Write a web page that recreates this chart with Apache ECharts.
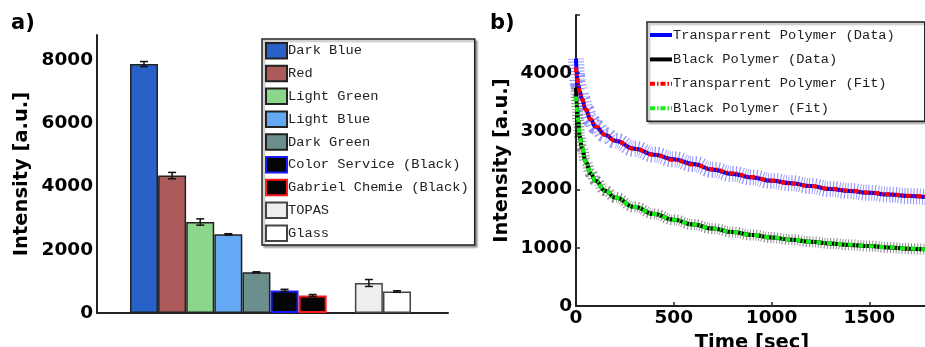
<!DOCTYPE html>
<html>
<head>
<meta charset="utf-8">
<script src="https://cdn.jsdelivr.net/npm/echarts@6/dist/echarts.min.js"></script>
<style>
html,body{margin:0;padding:0;background:#fff}
#chart{width:925px;height:347px}
</style>
</head>
<body>
<div id="chart"></div>
<script>
// a) intensity per material ('' = empty slot between the two groups)
var categories = ['Dark Blue', 'Red', 'Light Green', 'Light Blue', 'Dark Green', 'Color Service (Black)', 'Gabriel Chemie (Black)', '', 'TOPAS', 'Glass'];
var intensity = [7880, 4350, 2880, 2490, 1290, 715, 555, null, 950, 680];
var intensityErr = [80, 100, 100, 20, 15, 35, 30, null, 110, 25];
var barFill = ['#2862c8', '#ad5a5a', '#8bd68a', '#65a8f4', '#6b8f8c', '#050505', '#050505', null, '#eeeeee', '#ffffff'];
var barEdge = ['#222', '#222', '#222', '#222', '#222', '#1a1aff', '#ff1a1a', null, '#444', '#444'];

// b) decay curves
var times = [0, 5, 10, 20, 30, 50, 75, 100, 150, 200, 300, 400, 500, 600, 700, 800, 900, 1000, 1100, 1200, 1300, 1400, 1500, 1600, 1700, 1790];
var transData = [4250, 3950, 3820, 3680, 3560, 3370, 3200, 3080, 2940, 2840, 2700, 2600, 2520, 2440, 2340, 2270, 2210, 2150, 2110, 2060, 2010, 1975, 1945, 1915, 1890, 1870];
var transFit  = [4100, 3900, 3800, 3670, 3560, 3380, 3210, 3090, 2940, 2840, 2700, 2600, 2510, 2430, 2350, 2280, 2215, 2155, 2105, 2060, 2015, 1980, 1950, 1920, 1895, 1875];
var blackData = [3750, 3400, 3200, 2900, 2720, 2480, 2280, 2150, 1980, 1865, 1700, 1580, 1480, 1400, 1330, 1270, 1220, 1175, 1140, 1105, 1075, 1050, 1030, 1005, 985, 972];
var blackFit  = [3600, 3380, 3200, 2900, 2720, 2480, 2280, 2150, 1980, 1865, 1700, 1580, 1480, 1400, 1330, 1270, 1220, 1178, 1140, 1105, 1078, 1052, 1030, 1008, 988, 975];
var curveNames = ['Transparrent Polymer (Data)', 'Black Polymer (Data)', 'Transparrent Polymer (Fit)', 'Black Polymer (Fit)'];

var chart = echarts.init(document.getElementById('chart'));

var boldFont = {fontFamily: 'DejaVu Sans', fontWeight: 'bold', color: '#000'};
var solidIcon = 'path://M0,0H22V4H0Z';
var dashDotIcon = 'path://M0,0H5V4H0Z M7,0H8.5V4H7Z M10.5,0H15.5V4H10.5Z M17.5,0H19V4H17.5Z M21,0H22V4H21Z';

function pairs(vals) {
	return times.map(function (t, i) { return [t, vals[i]]; });
}
function tickFmt(step, top) {
	return function (v) { return (v % step === 0 && v < top) ? v : ''; };
}

var series = [];
var barNames = [];
categories.forEach(function (name, i) {
	if (!name) return;
	barNames.push(name);
	series.push({
		name: name,
		type: 'bar',
		xAxisIndex: 0,
		yAxisIndex: 0,
		barWidth: 28,
		barGap: '-100%',
		itemStyle: {
			color: barFill[i],
			borderColor: barEdge[i],
			borderWidth: (i === 5 || i === 6) ? 2 : 1.5
		},
		data: [[i, intensity[i]]]
	});
});

// error bars
series.push({
	type: 'custom',
	xAxisIndex: 0,
	yAxisIndex: 0,
	z: 10,
	encode: {x: 0, y: 1},
	data: categories.map(function (c, i) {
		return c ? [i, intensity[i], intensityErr[i]] : null;
	}).filter(function (d) { return d; }),
	renderItem: function (params, api) {
		var x = api.value(0), v = api.value(1), e = api.value(2);
		var hi = api.coord([x, v + e]), lo = api.coord([x, v - e]);
		var hw = 4;
		var st = {stroke: '#111', lineWidth: 1.5};
		return {
			type: 'group',
			children: [
				{type: 'line', shape: {x1: hi[0], y1: hi[1], x2: lo[0], y2: lo[1]}, style: st},
				{type: 'line', shape: {x1: hi[0] - hw, y1: hi[1], x2: hi[0] + hw, y2: hi[1]}, style: st},
				{type: 'line', shape: {x1: lo[0] - hw, y1: lo[1], x2: lo[0] + hw, y2: lo[1]}, style: st}
			]
		};
	}
});

function curve(name, vals, style, z) {
	return {
		name: name,
		type: 'line',
		xAxisIndex: 1,
		yAxisIndex: 1,
		data: pairs(vals),
		symbol: 'none',
		smooth: true,
		smoothMonotone: 'x',
		z: z,
		itemStyle: {color: style.color},
		lineStyle: style
	};
}

// hatched error bands
series.push(curve('transBand', transData, {width: 16, type: [1, 2], color: 'rgba(40,40,255,0.5)'}, 2));
series.push(curve('blackBand', blackData, {width: 11, type: [1, 2], color: 'rgba(50,50,50,0.55)'}, 2));
series.push(curve(curveNames[0], transData, {width: 4, color: '#0000ff'}, 3));
series.push(curve(curveNames[1], blackData, {width: 4, color: '#000000'}, 3));
series.push(curve(curveNames[2], transFit, {width: 4, color: '#ff0000', type: [5, 2, 1.5, 2]}, 4));
series.push(curve(curveNames[3], blackFit, {width: 4, color: '#11ee11', type: [5, 2, 1.5, 2]}, 4));

chart.setOption({
	animation: false,
	title: [
		{text: 'a)', left: 11, top: 13, padding: 0, textStyle: Object.assign({fontSize: 21}, boldFont)},
		{text: 'b)', left: 490, top: 13, padding: 0, textStyle: Object.assign({fontSize: 21}, boldFont)}
	],
	legend: [
		{
			data: barNames,
			orient: 'vertical',
			left: 262,
			top: 39,
			icon: 'rect',
			itemWidth: 21,
			itemHeight: 15.5,
			itemGap: 5.3,
			padding: [3, 6, 3, 3],
			borderColor: '#222',
			borderWidth: 1.5,
			backgroundColor: '#fff',
			shadowColor: 'rgba(0,0,0,0.35)',
			shadowBlur: 2,
			shadowOffsetX: 2,
			shadowOffsetY: 2,
			selectedMode: false,
			textStyle: {fontFamily: 'Liberation Mono', fontSize: 13.7, color: '#222', lineHeight: 15, padding: [0, 0, 0, -4]}
		},
		{
			data: curveNames.map(function (n, i) {
				return {name: n, icon: i < 2 ? solidIcon : dashDotIcon};
			}),
			orient: 'vertical',
			left: 647,
			top: 22,
			itemWidth: 22,
			itemHeight: 4,
			itemGap: 10.4,
			padding: [6, 30, 6, 3],
			borderColor: '#222',
			borderWidth: 1.5,
			backgroundColor: '#fff',
			shadowColor: 'rgba(0,0,0,0.35)',
			shadowBlur: 2,
			shadowOffsetX: 2,
			shadowOffsetY: 2,
			selectedMode: false,
			textStyle: {fontFamily: 'Liberation Mono', fontSize: 13.7, color: '#222', lineHeight: 14, padding: [0, 0, 0, -4]}
		}
	],
	grid: [
		{left: 97, top: 35, width: 351, height: 278, outerBoundsMode: 'none'},
		{left: 576, top: 15, width: 352, height: 291, outerBoundsMode: 'none'}
	],
	xAxis: [
		{
			type: 'value',
			gridIndex: 0,
			min: -1.672,
			max: 10.815,
			axisLine: {onZero: false, lineStyle: {color: '#222', width: 2}},
			axisTick: {show: false},
			axisLabel: {show: false},
			splitLine: {show: false}
		},
		{
			type: 'value',
			gridIndex: 1,
			min: 0,
			max: 1800,
			interval: 500,
			axisLine: {onZero: false, lineStyle: {color: '#222', width: 2}},
			axisTick: {inside: true, length: 4, lineStyle: {color: '#222', width: 1.5}},
			axisLabel: Object.assign({fontSize: 18.5, margin: 3, formatter: tickFmt(500, 1800)}, boldFont),
			splitLine: {show: false},
			name: 'Time [sec]',
			nameLocation: 'middle',
			nameGap: 24,
			nameTextStyle: Object.assign({fontSize: 19.5}, boldFont)
		}
	],
	yAxis: [
		{
			type: 'value',
			gridIndex: 0,
			min: 0,
			max: 8800,
			interval: 2000,
			axisLine: {show: true, onZero: false, lineStyle: {color: '#222', width: 2}},
			axisTick: {show: false},
			axisLabel: Object.assign({fontSize: 18.5, margin: 4, formatter: tickFmt(2000, 8800)}, boldFont),
			splitLine: {show: false},
			name: 'Intensity [a.u.]',
			nameLocation: 'middle',
			nameGap: 65,
			nameTextStyle: Object.assign({fontSize: 19.5}, boldFont)
		},
		{
			type: 'value',
			gridIndex: 1,
			min: 0,
			max: 5000,
			interval: 1000,
			axisLine: {show: true, onZero: false, lineStyle: {color: '#222', width: 2}},
			axisTick: {inside: true, length: 4, lineStyle: {color: '#222', width: 1.5}},
			axisLabel: Object.assign({fontSize: 18.5, margin: 4, formatter: tickFmt(1000, 5000)}, boldFont),
			splitLine: {show: false},
			name: 'Intensity [a.u.]',
			nameLocation: 'middle',
			nameGap: 64,
			nameTextStyle: Object.assign({fontSize: 19.5}, boldFont)
		}
	],
	series: series
});
</script>
</body>
</html>
